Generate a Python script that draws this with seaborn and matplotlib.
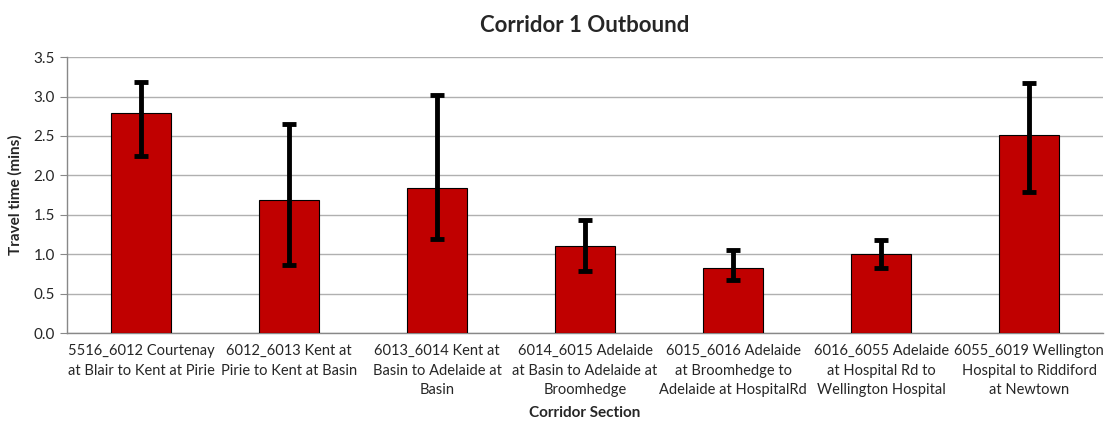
import matplotlib
matplotlib.use("Agg")
import matplotlib.pyplot as plt
import seaborn as sns
import pandas as pd
import numpy as np

# Data
sections = [
    "5516_6012 Courtenay\nat Blair to Kent at Pirie",
    "6012_6013 Kent at\nPirie to Kent at Basin",
    "6013_6014 Kent at\nBasin to Adelaide at\nBasin",
    "6014_6015 Adelaide\nat Basin to Adelaide at\nBroomhedge",
    "6015_6016 Adelaide\nat Broomhedge to\nAdelaide at HospitalRd",
    "6016_6055 Adelaide\nat Hospital Rd to\nWellington Hospital",
    "6055_6019 Wellington\nHospital to Riddiford\nat Newtown",
]
travel_time = [2.79, 1.69, 1.84, 1.11, 0.83, 1.00, 2.51]
err_low = [2.24, 0.87, 1.19, 0.79, 0.67, 0.82, 1.79]
err_high = [3.18, 2.65, 3.02, 1.44, 1.06, 1.18, 3.17]

df = pd.DataFrame({"section": sections, "time": travel_time})

sns.set_style("white")
plt.rcParams["font.family"] = ["Lato", "DejaVu Sans"]

fig = plt.figure(figsize=(11.07, 4.26), dpi=100)
ax = fig.add_axes([0.0605, 0.218, 0.936, 0.648])

sns.barplot(data=df, x="section", y="time", color="#C00000", width=0.41,
            edgecolor="black", linewidth=0.8, saturation=1, ax=ax, zorder=3)

x = np.arange(len(sections))
yerr = [np.array(travel_time) - np.array(err_low),
        np.array(err_high) - np.array(travel_time)]
ax.errorbar(x, travel_time, yerr=yerr, fmt="none", ecolor="black",
            elinewidth=3.5, capsize=5, capthick=3.5, zorder=4)

ax.set_ylim(0, 3.5)
ax.set_yticks(np.arange(0, 3.51, 0.5))
ax.set_yticklabels([f"{v:.1f}" for v in np.arange(0, 3.51, 0.5)], fontsize=11)
ax.set_xlim(-0.5, len(sections) - 0.5)
ax.set_xticks(x)
ax.set_xticklabels(sections, fontsize=10.5, linespacing=1.5)
ax.set_xticks(np.arange(-0.5, len(sections), 1), minor=True)
ax.tick_params(axis="x", which="major", length=0, pad=8)
ax.tick_params(axis="x", which="minor", length=5, color="#888888", direction="out")
ax.tick_params(axis="y", length=5, color="#888888", direction="out", left=True)

ax.grid(axis="y", color="#B0B0B0", linewidth=1, zorder=0)
ax.set_axisbelow(True)
for side in ["top", "right"]:
    ax.spines[side].set_visible(False)
for side in ["left", "bottom"]:
    ax.spines[side].set_color("#888888")
    ax.spines[side].set_linewidth(1)

ax.set_title("Corridor 1 Outbound", fontsize=16, fontweight="bold", pad=18)
ax.set_xlabel("Corridor Section", fontsize=11, fontweight="bold", labelpad=6)
ax.set_ylabel("Travel time (mins)", fontsize=11, fontweight="bold", labelpad=8)

fig.savefig("out.png", dpi=100)
